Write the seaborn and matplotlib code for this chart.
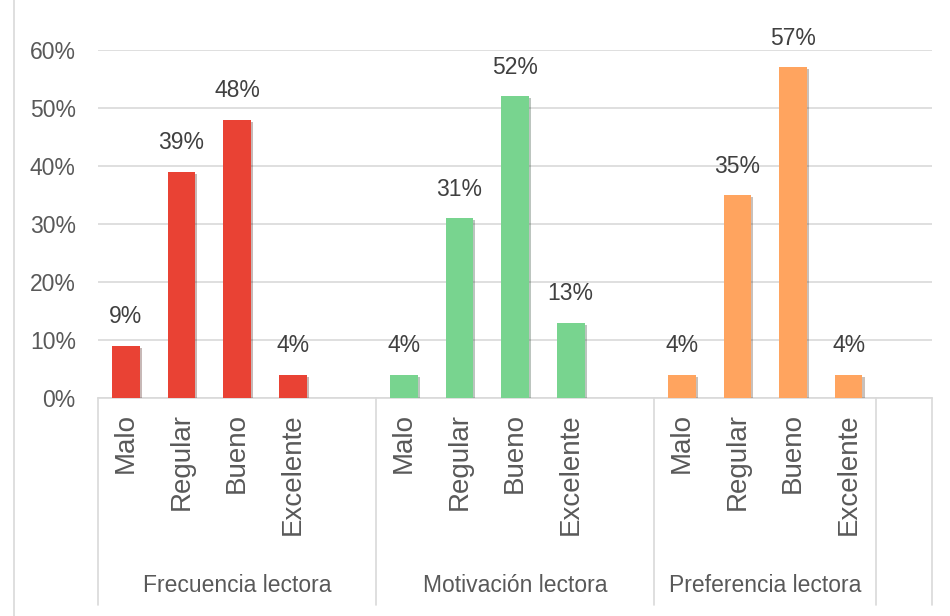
import matplotlib
matplotlib.use("Agg")
import matplotlib.pyplot as plt
import matplotlib.patheffects as pe
from matplotlib.lines import Line2D
import numpy as np
import pandas as pd
import seaborn as sns

grupos = ["Frecuencia lectora", "Motivación lectora", "Preferencia lectora"]
niveles = ["Malo", "Regular", "Bueno", "Excelente"]
frecuencia = [9, 39, 48, 4]
motivacion = [4, 31, 52, 13]
preferencia = [4, 35, 57, 4]
colores = ["#E94234", "#78D48F", "#FFA45F"]
yticks = [0, 10, 20, 30, 40, 50, 60]

# each group takes 5 slots (4 bars + gap), as in the excel chart
slot = 5
rows = []
for g, vals in enumerate([frecuencia, motivacion, preferencia]):
    for j, v in enumerate(vals):
        rows.append({"pos": g * slot + j, "valor": v, "grupo": grupos[g], "nivel": niveles[j]})
df = pd.DataFrame(rows)

sns.set_theme(style="white")
plt.rcParams["font.family"] = ["Liberation Sans", "DejaVu Sans"]

fig = plt.figure(figsize=(9.5, 6.16), dpi=100)
ax = fig.add_axes([98 / 950, 1 - 398 / 616, (932 - 98) / 950, (398 - 50) / 616])

sns.barplot(data=df, x="pos", y="valor", hue="grupo", palette=colores,
            native_scale=True, width=0.5, dodge=False, legend=False,
            saturation=1, linewidth=0, ax=ax, zorder=3)

for p in ax.patches:
    p.set_edgecolor("none")
    p.set_path_effects([pe.SimplePatchShadow(offset=(1.5, -1.5), alpha=0.3), pe.Normal()])

for c in ax.containers:
    ax.bar_label(c, fmt=lambda v: f"{v:.0f}%", padding=12.5, fontsize=16.5, color="#404040")

ax.set_ylim(0, 60)
ax.set_xlim(-0.5, 14.5)
ax.set_yticks(yticks)
ax.set_yticklabels([f"{t}%" for t in yticks], fontsize=16.5, color="#595959")
ax.yaxis.grid(True, color="#d9d9d9", lw=1.2, zorder=0)
ax.set_axisbelow(True)
ax.tick_params(axis="y", length=0, pad=16)

ax.set_xticks(df["pos"])
ax.set_xticklabels(df["nivel"], rotation=90, fontsize=20, color="#595959")
ax.tick_params(axis="x", length=0, pad=11)
ax.set_xlabel("")
ax.set_ylabel("")

for s in ["left", "right", "top"]:
    ax.spines[s].set_visible(False)
ax.spines["bottom"].set_color("#d9d9d9")
ax.spines["bottom"].set_linewidth(1.2)

# group separators and labels below the axis
trans = ax.get_xaxis_transform()
y_low = -(605 - 398) / (398 - 50)
for x in [-0.5, 4.5, 9.5, 13.5, 14.5]:
    ax.add_line(Line2D([x, x], [0, y_low], transform=trans, color="#d9d9d9", lw=1.2, clip_on=False))
centros = [2, 7, 11.5]
for g, cx in zip(grupos, centros):
    ax.text(cx, -(585 - 398) / (398 - 50), g, transform=trans, ha="center", va="center",
            fontsize=16.5, color="#595959")

fig.add_artist(Line2D([14 / 950, 14 / 950], [0, 1], transform=fig.transFigure, color="#d9d9d9", lw=1.2))

fig.savefig("out.png", dpi=100, facecolor="white")
